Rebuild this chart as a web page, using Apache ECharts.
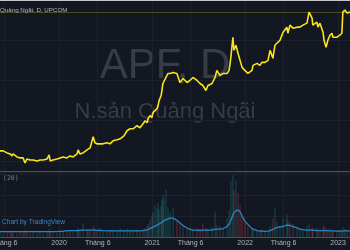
<!DOCTYPE html>
<html><head><meta charset="utf-8">
<script src="https://cdn.jsdelivr.net/npm/echarts@6/dist/echarts.min.js"></script>
<style>html,body{margin:0;padding:0;background:#131722}#c{width:350px;height:250px}</style>
</head><body><div id="c"></div>
<script>
const dates = ['2019-05-14','2019-05-26','2019-06-11','2019-06-23','2019-06-30','2019-07-04','2019-07-20','2019-08-01','2019-08-13','2019-08-20',
'2019-08-28','2019-09-09','2019-09-21','2019-10-07','2019-10-18','2019-10-30','2019-11-15','2019-11-23','2019-11-27','2019-12-08',
'2019-12-24','2020-01-05','2020-01-17','2020-02-01','2020-02-13','2020-02-25','2020-03-12','2020-03-16','2020-03-23','2020-04-04',
'2020-04-20','2020-04-24','2020-05-02','2020-05-14','2020-05-21','2020-05-29','2020-06-10','2020-06-22','2020-07-07','2020-07-19',
'2020-07-31','2020-08-16','2020-08-28','2020-09-12','2020-09-24','2020-10-06','2020-10-18','2020-11-02','2020-11-14','2020-11-26',
'2020-12-04','2020-12-12','2020-12-16','2020-12-23','2020-12-31','2021-01-04','2021-01-12','2021-01-20','2021-01-24','2021-01-28',
'2021-02-05','2021-02-08','2021-02-12','2021-02-16','2021-02-24','2021-03-04','2021-03-12','2021-03-24','2021-04-08','2021-04-20',
'2021-05-02','2021-05-18','2021-05-29','2021-06-10','2021-06-26','2021-07-08','2021-07-19','2021-07-31','2021-08-08','2021-08-24',
'2021-09-05','2021-09-12','2021-09-24','2021-10-06','2021-10-22','2021-10-30','2021-11-06','2021-11-14','2021-11-18','2021-11-26',
'2021-12-04','2021-12-12','2021-12-20','2021-12-31','2022-01-12','2022-01-28','2022-02-01','2022-02-17','2022-02-28','2022-03-08',
'2022-03-20','2022-04-01','2022-04-09','2022-04-20','2022-04-28','2022-05-06','2022-05-18','2022-05-30','2022-06-14','2022-06-18',
'2022-06-26','2022-07-08','2022-07-24','2022-08-04','2022-08-16','2022-09-01','2022-09-09','2022-09-21','2022-09-24','2022-10-10',
'2022-10-14','2022-10-22','2022-11-03','2022-11-07','2022-11-15','2022-11-22','2022-11-30','2022-12-08','2022-12-12','2022-12-28',
'2023-01-08','2023-01-16','2023-01-20','2023-01-28','2023-02-05','2023-02-17'];

const price = [25,25,24,23.5,22.5,23.5,22,21.5,21.5,19,
21,20.5,20.5,20,20.5,20.5,21,23,20,20.5,
21,21.5,22,21.5,22.5,22,23.5,25.5,23.5,24,
25.5,25,26.5,32,29,28.5,28.5,28.5,29,28.5,
30,30.5,31,32.5,35,36,36,37.5,36.5,38.5,
40,39,41,42.5,41.5,44,45,46,47.5,50,
52.5,55,58.5,59,61.5,63.5,63.5,64,63.5,59,
61,59,60,61.5,60,58.5,57.5,55,57.5,58.5,
61.5,65,62.5,63.5,63.5,65,71.5,81.5,75,77.5,
73.5,70,66.5,65,63.5,65,67.5,68.5,67.5,69,
69,70,75,71,77.5,78.5,80,84,86.5,83.5,
87.5,86,86.5,86.5,87.5,88.5,94,91,87.5,89,
86.5,88.5,84,80,76.5,80,82.5,83.5,81.5,81.5,
82.5,83.5,94,95,93.5,94];

const volume = [0.24,0.19,0.29,0.24,0.19,0.24,0.19,0.24,0.24,0.33,
0.24,0.19,0.24,0.19,0.24,0.19,0.24,0.38,0.29,0.24,
0.19,0.24,0.24,0.29,0.33,0.24,0.33,0.43,0.29,0.67,
0.38,0.29,0.38,0.52,0.43,0.33,0.43,0.29,0.24,0.29,
0.33,0.29,0.43,0.33,0.38,0.33,0.29,0.33,0.29,0.38,
0.43,0.52,0.62,0.81,1.05,1.19,1.52,1.38,1.62,1.29,
1.48,1.76,2.0,1.86,2.24,1.43,1.19,1.38,0.81,0.62,
0.52,0.43,0.48,0.38,0.43,0.38,0.67,0.43,0.38,0.48,
1.19,0.57,0.52,0.43,0.9,1.29,2.67,2.95,2.24,2.71,
2.1,1.52,1.05,0.71,0.52,0.38,0.33,0.29,0.33,0.38,
0.29,0.33,0.52,0.86,1.38,0.71,0.57,0.9,1.1,0.81,
0.71,0.62,0.52,0.43,0.38,0.52,0.62,0.48,0.38,0.43,
0.33,0.38,0.48,0.52,0.43,0.33,0.43,0.33,0.29,0.33,
0.33,0.29,0.48,0.38,0.33,0.29];

const volumeMA = [0.26,0.26,0.26,0.26,0.26,0.26,0.26,0.26,0.26,0.26,
0.26,0.26,0.26,0.26,0.26,0.26,0.26,0.26,0.26,0.26,
0.26,0.27,0.27,0.3,0.3,0.3,0.31,0.31,0.32,0.33,
0.33,0.33,0.33,0.33,0.33,0.32,0.31,0.3,0.29,0.29,
0.29,0.29,0.29,0.29,0.29,0.29,0.29,0.29,0.29,0.3,
0.32,0.34,0.36,0.4,0.45,0.48,0.52,0.57,0.6,0.62,
0.67,0.7,0.74,0.78,0.82,0.86,0.9,0.9,0.8,0.67,
0.55,0.43,0.36,0.33,0.33,0.31,0.33,0.33,0.33,0.33,
0.38,0.4,0.38,0.4,0.5,0.62,0.8,1.05,1.15,1.25,
1.29,1.2,1.0,0.76,0.6,0.4,0.38,0.3,0.28,0.28,
0.27,0.28,0.3,0.36,0.42,0.45,0.48,0.5,0.57,0.57,
0.55,0.5,0.43,0.38,0.35,0.33,0.33,0.33,0.32,0.31,
0.31,0.3,0.3,0.3,0.3,0.29,0.29,0.29,0.28,0.28,
0.28,0.28,0.28,0.29,0.29,0.29];

const tickDates = ['2019-06-01','2020-01-01','2020-06-01','2021-01-01','2021-06-01','2022-01-01','2022-06-01','2023-01-01'];
const tickLabels = ['Tháng 6','2020','Tháng 6','2021','Tháng 6','2022','Tháng 6','2023'];

const xMin = '2019-05-14';
const xMax = '2023-02-17';

const ts = d => Date.parse(d + 'T00:00:00Z');
const tickTs = tickDates.map(ts);
const labelFor = v => {
  const i = tickTs.findIndex(t => Math.abs(t - v) < 43200000);
  return i >= 0 ? tickLabels[i] : '';
};

const chart = echarts.init(document.getElementById('c'), null, {renderer: 'canvas'});
const gridColor = '#1d212c';
const sepColor = '#4b4f5a';

const xBase = {
  type: 'value', min: ts(xMin), max: ts(xMax), scale: true,
  axisTick: {show: false, customValues: tickTs},
  splitLine: {show: true, lineStyle: {color: gridColor, width: 1}},
};

chart.setOption({
  backgroundColor: '#131722',
  animation: false,
  grid: [
    {left: 0, right: 0, top: 0, height: 171, outerBoundsMode: 'none'},
    {left: 0, right: 0, top: 172, height: 65, outerBoundsMode: 'none'}
  ],
  xAxis: [
    Object.assign({}, xBase, {gridIndex: 0,
      axisLine: {show: true, onZero: false, lineStyle: {color: sepColor, width: 1}},
      axisLabel: {show: false, customValues: tickTs}}),
    Object.assign({}, xBase, {gridIndex: 1,
      axisLine: {show: true, onZero: false, lineStyle: {color: sepColor, width: 1}},
      axisLabel: {show: true, customValues: tickTs, formatter: labelFor,
        alignMinLabel: 'center', alignMaxLabel: 'center', hideOverlap: false,
        color: '#b2b5be', fontSize: 7, fontFamily: 'Liberation Sans', margin: 3}})
  ],
  yAxis: [
    {gridIndex: 0, type: 'value', min: 15, max: 100, splitNumber: 5, position: 'right',
      axisLine: {show: false}, axisTick: {show: false}, axisLabel: {show: false},
      splitLine: {show: true, lineStyle: {color: gridColor}}},
    {gridIndex: 1, type: 'value', min: 0, max: 3.1, splitNumber: 3, position: 'right',
      axisLine: {show: false}, axisTick: {show: false}, axisLabel: {show: false},
      splitLine: {show: true, lineStyle: {color: gridColor}}}
  ],
  graphic: [
    {type: 'text', x: 165, y: 66, z: 0, style: {text: 'APF, D', fill: '#383c47',
      font: '42px "Liberation Sans"', textAlign: 'center', textVerticalAlign: 'middle'}},
    {type: 'text', x: 165, y: 112, z: 0, style: {text: 'N.sản Quảng Ngãi', fill: '#383c47',
      font: '22px "Liberation Sans"', textAlign: 'center', textVerticalAlign: 'middle'}},
    {type: 'text', x: 0, y: 10.5, z: 10, style: {text: 'Quảng Ngãi, D, UPCOM', fill: '#b2b5be',
      font: '6.2px "Liberation Sans"', textAlign: 'left', textVerticalAlign: 'middle'}},
    {type: 'text', x: 3, y: 178, z: 10, style: {text: '(20)', fill: '#787b86',
      font: '6.5px "DejaVu Sans Mono"', textAlign: 'left', textVerticalAlign: 'middle'}},
    {type: 'text', x: 2, y: 222, z: 10, style: {text: 'Chart by TradingView', fill: '#3b86c8',
      font: '6.6px "Liberation Sans"', textAlign: 'left', textVerticalAlign: 'middle'}},
    {type: 'line', z: 10, shape: {x1: 0, y1: 0.5, x2: 350, y2: 0.5}, style: {stroke: '#c4c6cc', lineWidth: 1}}
  ],
  series: [
    {type: 'line', xAxisIndex: 0, yAxisIndex: 0, showSymbol: false, z: 5,
      data: dates.map((d, i) => [ts(d), price[i]]),
      lineStyle: {color: '#f7e51a', width: 1.6},
      markLine: {symbol: 'none', silent: true, label: {show: false},
        lineStyle: {color: '#4a4a24', type: 'solid', width: 1},
        data: [{yAxis: price[price.length - 1]}]}},
    {type: 'bar', xAxisIndex: 1, yAxisIndex: 1, barWidth: 1,
      data: dates.map((d, i) => [ts(d), volume[i]]),
      itemStyle: {color: p => (p.dataIndex === 0 || price[p.dataIndex] >= price[p.dataIndex - 1])
        ? 'rgba(38,166,154,0.35)' : 'rgba(239,83,80,0.35)'}},
    {type: 'line', xAxisIndex: 1, yAxisIndex: 1, showSymbol: false, z: 5,
      data: dates.map((d, i) => [ts(d), volumeMA[i]]),
      lineStyle: {color: '#2a85c8', width: 1.3}}
  ]
});
</script></body></html>
